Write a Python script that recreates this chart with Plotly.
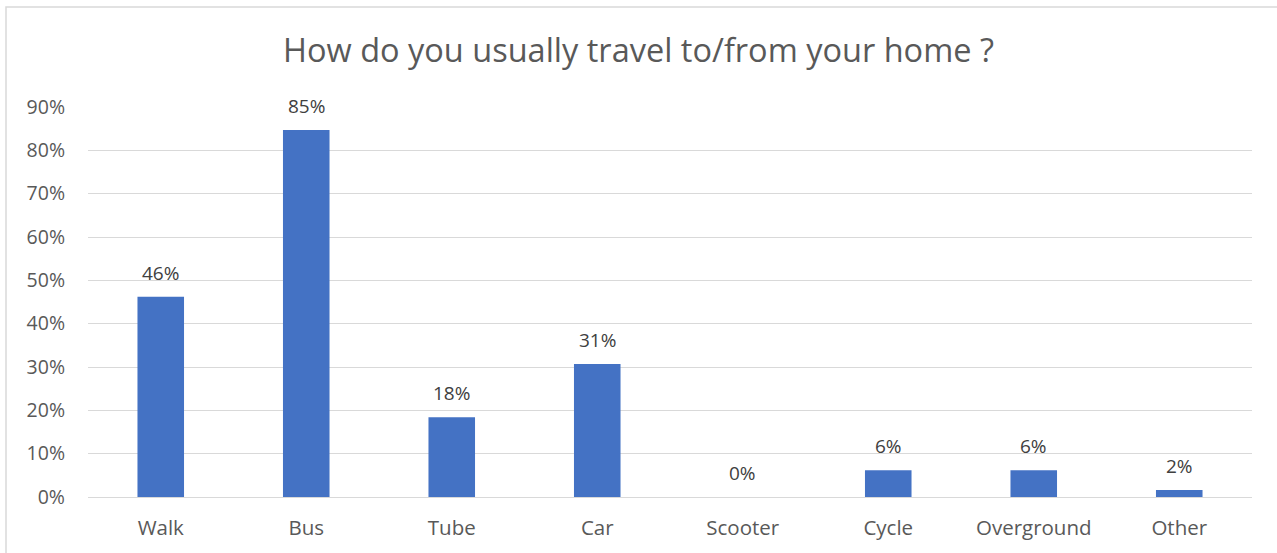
import plotly.graph_objects as go

categories = ["Walk", "Bus", "Tube", "Car", "Scooter", "Cycle", "Overground", "Other"]
shares = [0.462, 0.847, 0.184, 0.307, 0.0, 0.062, 0.062, 0.016]
y_ticks = [0.0, 0.1, 0.2, 0.3, 0.4, 0.5, 0.6, 0.7, 0.8, 0.9]

FONT = "Open Sans"

fig = go.Figure(
    go.Bar(
        x=categories,
        y=shares,
        marker=dict(color="#4472C4", line=dict(width=0)),
        width=0.32,
        hovertemplate="%{x}: %{y:.0%}<extra></extra>",
    )
)

# data labels sit a little higher above the bars than plotly's "outside" text
for cat, val in zip(categories, shares):
    fig.add_annotation(
        x=cat,
        y=val,
        text=f"{val:.0%}",
        showarrow=False,
        yanchor="bottom",
        yshift=9,
        font=dict(family=FONT, size=19, color="#404040"),
    )

# light grey chart-area border, like the spreadsheet export
fig.add_shape(
    type="rect",
    xref="paper",
    yref="paper",
    x0=(6 - 88) / 1164,
    x1=(1290 - 88) / 1164,
    y0=(497 - 570) / 390,
    y1=(497 - 7) / 390,
    line=dict(color="#d9d9d9", width=1.5),
    layer="below",
)

fig.update_layout(
    width=1277,
    height=553,
    autosize=False,
    paper_bgcolor="white",
    plot_bgcolor="white",
    margin=dict(l=88, r=25, t=107, b=56),
    showlegend=False,
    title=dict(
        text="How do you usually travel to/from your home ?",
        x=0.5,
        xanchor="center",
        y=1 - 51 / 553,
        yanchor="middle",
        font=dict(family=FONT, size=32.5, color="#595959"),
    ),
    font=dict(family=FONT, color="#595959"),
)

fig.update_yaxes(
    range=[0, 0.9],
    tickvals=y_ticks,
    tickformat=".0%",
    tickfont=dict(family=FONT, size=19.5, color="#595959"),
    showgrid=True,
    gridcolor="#d9d9d9",
    gridwidth=1,
    zeroline=False,
    showline=False,
    ticks="",
    ticklabelstandoff=22,
    automargin=False,
)
fig.update_xaxes(
    tickfont=dict(family=FONT, size=20.5, color="#595959"),
    showline=True,
    linecolor="#d9d9d9",
    linewidth=1,
    ticks="",
    ticklabelstandoff=12,
    automargin=False,
)

fig.write_html(
    "out.html",
    config={"displayModeBar": False},
    post_script="document.body.style.margin='0';",
)
